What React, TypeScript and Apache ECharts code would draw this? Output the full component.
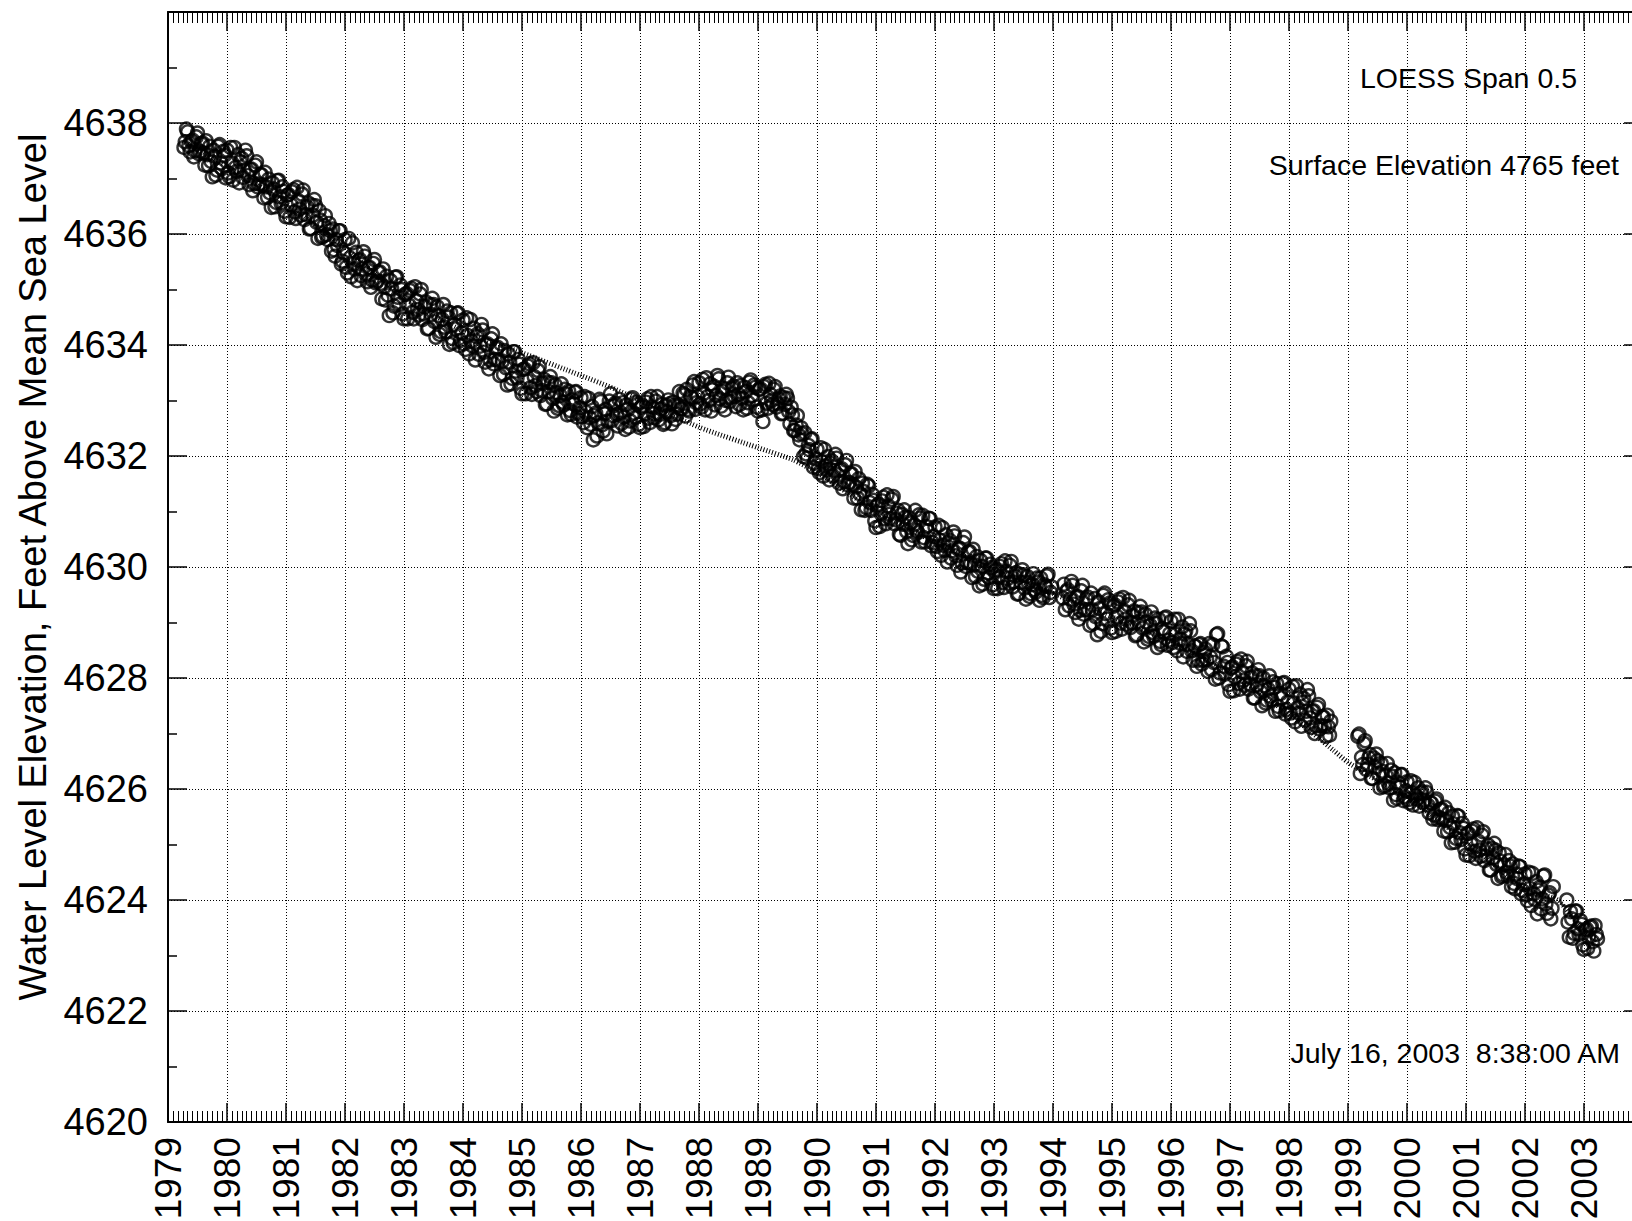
import React, { useEffect, useRef } from "react";
import * as echarts from "echarts";

// Semi-monthly water level readings (feet above mean sea level); null = no reading
// first reading of each half-month
const lvl1979 = [null, null, null, null, null, null, null, 4637.66, 4637.84, 4637.48, 4637.69, 4637.5, 4637.82, 4637.49, 4637.64, 4637.24, 4637.43, 4637.58, 4637.03, 4637.4, 4637.15, 4637.61, 4637.18, 4637.42];
const lvl1980 = [4637.51, 4637.03, 4637.28, 4637.56, 4637.13, 4636.92, 4637.36, 4637.15, 4637.41, 4636.89, 4637.17, 4636.91, 4637.3, 4636.9, 4637.07, 4636.65, 4636.85, 4636.99, 4636.48, 4636.81, 4636.57, 4636.97, 4636.56, 4636.77];
const lvl1981 = [4636.31, 4636.71, 4636.53, 4636.8, 4636.28, 4636.6, 4636.34, 4636.79, 4636.35, 4636.56, 4636.1, 4636.34, 4636.51, 4635.92, 4636.25, 4635.96, 4636.33, 4635.9, 4636.06, 4636.09, 4635.6, 4635.79, 4636.06, 4635.51];
const lvl1982 = [4635.9, 4635.3, 4635.57, 4635.84, 4635.37, 4635.16, 4635.54, 4635.37, 4635.6, 4635.14, 4635.4, 4635.17, 4635.54, 4635.15, 4635.32, 4634.83, 4635.05, 4635.24, 4634.53, 4635.01, 4634.7, 4635.23, 4634.73, 4635.0];
const lvl1983 = [4634.47, 4634.93, 4634.72, 4635.02, 4634.47, 4634.8, 4634.54, 4635.0, 4634.56, 4634.77, 4634.3, 4634.55, 4634.73, 4634.14, 4634.53, 4634.24, 4634.73, 4634.24, 4634.5, 4634.58, 4634.04, 4634.29, 4634.58, 4634.08];
const lvl1984 = [4634.45, 4633.92, 4634.17, 4634.46, 4633.98, 4633.73, 4634.2, 4633.98, 4634.27, 4633.69, 4634.02, 4633.73, 4634.2, 4633.74, 4633.96, 4633.45, 4633.71, 4633.9, 4633.28, 4633.69, 4633.4, 4633.88, 4633.41, 4633.65];
const lvl1985 = [4633.12, 4633.57, 4633.36, 4633.66, 4633.11, 4633.43, 4633.16, 4633.61, 4633.18, 4633.38, 4632.94, 4633.16, 4633.32, 4632.81, 4633.14, 4632.91, 4633.3, 4632.92, 4633.12, 4633.17, 4632.75, 4632.94, 4633.16, 4632.77];
const lvl1986 = [4633.05, 4632.6, 4632.79, 4633.04, 4632.57, 4632.29, 4632.77, 4632.6, 4632.98, 4632.45, 4632.84, 4632.63, 4633.12, 4632.73, 4632.95, 4632.54, 4632.78, 4632.96, 4632.48, 4632.84, 4632.63, 4633.05, 4632.69, 4632.93];
const lvl1987 = [4632.51, 4632.91, 4632.76, 4633.03, 4632.6, 4632.88, 4632.69, 4633.07, 4632.75, 4632.93, 4632.6, 4632.8, 4632.94, 4632.58, 4632.91, 4632.75, 4633.16, 4632.85, 4633.1, 4633.2, 4632.81, 4633.05, 4633.34, 4632.96];
const lvl1988 = [4633.32, 4632.88, 4633.13, 4633.41, 4633.0, 4632.81, 4633.26, 4633.09, 4633.39, 4632.9, 4633.22, 4633.0, 4633.42, 4633.06, 4633.26, 4632.89, 4633.11, 4633.27, 4632.83, 4633.16, 4632.96, 4633.37, 4633.01, 4633.24];
const lvl1989 = [4632.81, 4633.21, 4632.62, 4633.29, 4632.86, 4633.11, 4632.93, 4633.25, 4632.94, 4633.08, 4632.77, 4632.93, 4633.04, 4632.58, 4632.74, 4632.46, 4632.73, 4632.29, 4632.4, 4632.42, 4631.96, 4632.11, 4632.31, 4631.87];
const lvl1990 = [4632.12, 4631.7, 4631.9, 4632.12, 4631.75, 4631.57, 4631.91, 4631.74, 4631.96, 4631.51, 4631.77, 4631.54, 4631.92, 4631.52, 4631.68, 4631.24, 4631.44, 4631.59, 4631.03, 4631.36, 4631.07, 4631.46, 4631.02, 4631.2];
const lvl1991 = [4630.71, 4631.13, 4630.97, 4631.26, 4630.78, 4631.1, 4630.87, 4631.27, 4630.85, 4631.02, 4630.57, 4630.77, 4630.9, 4630.42, 4630.79, 4630.57, 4631.02, 4630.62, 4630.88, 4630.93, 4630.45, 4630.65, 4630.87, 4630.44];
const lvl1992 = [4630.72, 4630.28, 4630.48, 4630.71, 4630.3, 4630.09, 4630.48, 4630.29, 4630.56, 4630.03, 4630.34, 4630.07, 4630.54, 4630.08, 4630.28, 4629.81, 4630.04, 4630.19, 4629.66, 4630.01, 4629.78, 4630.16, 4629.81, 4629.99];
const lvl1993 = [4629.61, 4629.96, 4629.81, 4630.06, 4629.63, 4629.92, 4629.71, 4630.1, 4629.73, 4629.9, 4629.52, 4629.72, 4629.86, 4629.42, 4629.72, 4629.52, 4629.88, 4629.55, 4629.73, 4629.8, 4629.45, 4629.65, 4629.87, 4629.54];
const lvl1994 = [null, null, null, null, 4629.44, 4629.23, 4629.59, 4629.42, 4629.67, 4629.18, 4629.47, 4629.22, 4629.67, 4629.23, 4629.46, 4628.95, 4629.23, 4629.43, 4628.78, 4629.25, 4628.98, 4629.53, 4629.06, 4629.35];
const lvl1995 = [4628.82, 4629.32, 4629.11, 4629.42, 4628.88, 4629.21, 4628.97, 4629.4, 4629.0, 4629.21, 4628.78, 4629.02, 4629.19, 4628.65, 4629.01, 4628.75, 4629.19, 4628.75, 4628.98, 4629.06, 4628.6, 4628.83, 4629.1, 4628.68];
const lvl1996 = [4629.02, 4628.55, 4628.79, 4629.06, 4628.62, 4628.38, 4628.85, 4628.61, 4628.85, 4628.32, 4628.57, 4628.32, 4628.62, 4628.32, 4628.52, 4628.12, 4628.38, 4628.6, 4627.98, 4628.8, 4628.09, 4628.56, 4628.07, 4628.28];
const lvl1997 = [4627.76, 4628.2, 4628.02, 4628.3, 4627.8, 4628.11, 4627.87, 4628.3, 4627.89, 4628.09, 4627.64, 4627.88, 4628.04, 4627.5, 4627.86, 4627.6, 4628.04, 4627.6, 4627.83, 4627.9, 4627.41, 4627.64, 4627.92, 4627.43];
const lvl1998 = [4627.8, 4627.28, 4627.55, 4627.86, 4627.37, 4627.13, 4627.63, 4627.4, 4627.68, 4627.11, 4627.41, 4627.14, 4627.52, 4627.14, 4627.3, 4626.95, 4627.12, 4627.22, null, null, null, null, null, null];
const lvl1999 = [null, null, null, null, 4626.95, 4626.28, 4626.44, 4626.87, 4626.44, 4626.62, 4626.19, 4626.39, 4626.51, 4626.02, 4626.32, 4626.06, 4626.46, 4626.02, 4626.23, 4626.29, 4625.83, 4626.03, 4626.26, 4625.86];
const lvl2000 = [4626.13, 4625.75, 4625.93, 4626.12, 4625.82, 4625.69, 4625.95, 4625.8, 4625.94, 4625.57, 4625.74, 4625.53, 4625.82, 4625.49, 4625.64, 4625.24, 4625.43, 4625.57, 4625.03, 4625.37, 4625.11, 4625.51, 4625.09, 4625.29];
const lvl2001 = [4624.81, 4625.2, 4625.01, 4625.28, 4624.75, 4625.06, 4624.79, 4625.23, 4624.79, 4624.99, 4624.54, 4624.76, 4624.9, 4624.39, 4624.7, 4624.45, 4624.82, 4624.43, 4624.61, 4624.65, 4624.2, 4624.38, 4624.6, 4624.17];
const lvl2002 = [4624.47, 4623.99, 4624.21, 4624.48, 4624.01, 4623.75, 4624.23, 4624.02, 4624.45, 4623.76, 4624.13, 4623.85, null, null, null, null, null, 4624.0, 4623.33, 4623.66, 4623.4, 4623.8, 4623.38, 4623.56];
const lvl2003 = [4623.11, 4623.48, 4623.33, 4623.53, 4623.08, 4623.38];

// second reading of each half-month
const lvl1979b = [null, null, null, null, null, null, 4637.56, 4637.89, 4637.59, 4637.67, 4637.39, 4637.75, 4637.45, 4637.63, 4637.46, 4637.68, 4637.23, 4637.31, 4637.51, 4637.06, 4637.58, 4637.28, 4637.49, 4637.01];
const lvl1980b = [4637.1, 4637.56, 4636.97, 4637.2, 4637.43, 4637.3, 4637.02, 4637.51, 4637.05, 4637.16, 4636.78, 4637.24, 4636.85, 4637.07, 4636.88, 4637.11, 4636.66, 4636.74, 4636.92, 4636.49, 4636.96, 4636.67, 4636.85, 4636.41];
const lvl1981b = [4636.7, 4636.3, 4636.76, 4636.4, 4636.84, 4636.45, 4636.72, 4636.26, 4636.49, 4636.09, 4636.52, 4636.62, 4636.21, 4636.42, 4635.94, 4636.15, 4635.99, 4636.19, 4635.69, 4635.72, 4635.9, 4636.06, 4635.46, 4635.66];
const lvl1982b = [4635.4, 4635.92, 4635.23, 4635.47, 4635.67, 4635.52, 4635.25, 4635.68, 4635.28, 4635.39, 4635.04, 4635.47, 4635.12, 4635.31, 4635.11, 4635.37, 4634.81, 4634.9, 4635.16, 4634.58, 4635.22, 4634.86, 4635.08, 4634.56];
const lvl1983b = [4634.91, 4634.47, 4634.98, 4634.59, 4635.05, 4634.64, 4634.92, 4634.46, 4634.69, 4634.29, 4634.73, 4634.84, 4634.42, 4634.69, 4634.19, 4634.46, 4634.32, 4634.61, 4634.01, 4634.12, 4634.37, 4634.57, 4633.99, 4634.22];
const lvl1984b = [4634.02, 4634.49, 4633.84, 4634.07, 4634.3, 4634.15, 4633.83, 4634.37, 4633.87, 4634.0, 4633.57, 4634.11, 4633.66, 4633.94, 4633.72, 4634.02, 4633.47, 4633.59, 4633.84, 4633.3, 4633.88, 4633.53, 4633.74, 4633.22];
const lvl1985b = [4633.56, 4633.12, 4633.62, 4633.23, 4633.68, 4633.27, 4633.54, 4633.09, 4633.31, 4632.93, 4633.33, 4633.43, 4633.04, 4633.28, 4632.86, 4633.09, 4632.97, 4633.2, 4632.74, 4632.82, 4633.01, 4633.15, 4632.7, 4632.87];
const lvl1986b = [4632.71, 4633.07, 4632.51, 4632.69, 4632.89, 4632.73, 4632.36, 4633.02, 4632.56, 4632.76, 4632.4, 4632.99, 4632.64, 4632.91, 4632.75, 4633.02, 4632.59, 4632.7, 4632.92, 4632.52, 4633.02, 4632.77, 4632.97, 4632.57];
const lvl1987b = [4632.88, 4632.53, 4632.97, 4632.68, 4633.07, 4632.76, 4632.99, 4632.65, 4632.85, 4632.57, 4632.91, 4633.01, 4632.73, 4632.97, 4632.66, 4632.91, 4632.85, 4633.13, 4632.72, 4632.84, 4633.08, 4633.28, 4632.84, 4633.07];
const lvl1988b = [4632.94, 4633.38, 4632.83, 4633.07, 4633.3, 4633.19, 4632.92, 4633.45, 4633.03, 4633.17, 4632.83, 4633.32, 4632.98, 4633.22, 4633.07, 4633.32, 4632.93, 4633.04, 4633.24, 4632.86, 4633.33, 4633.09, 4633.28, 4632.88];
const lvl1989b = [4633.2, 4632.83, 4633.25, 4632.95, 4633.31, 4633.0, 4633.2, 4632.88, 4633.03, 4632.76, 4633.05, 4633.11, 4632.8, 4632.88, 4632.46, 4632.56, 4632.38, 4632.51, 4631.99, 4632.04, 4632.19, 4632.3, 4631.8, 4631.95];
const lvl1990b = [4631.77, 4632.15, 4631.64, 4631.82, 4631.99, 4631.87, 4631.64, 4632.03, 4631.66, 4631.75, 4631.41, 4631.84, 4631.48, 4631.68, 4631.49, 4631.72, 4631.24, 4631.32, 4631.51, 4631.02, 4631.49, 4631.16, 4631.31, 4630.83];
const lvl1991b = [4631.1, 4630.73, 4631.19, 4630.87, 4631.3, 4630.95, 4631.22, 4630.78, 4630.97, 4630.59, 4630.95, 4631.03, 4630.64, 4630.89, 4630.49, 4630.76, 4630.66, 4630.94, 4630.45, 4630.53, 4630.73, 4630.88, 4630.38, 4630.55];
const lvl1992b = [4630.37, 4630.75, 4630.21, 4630.39, 4630.58, 4630.44, 4630.16, 4630.63, 4630.2, 4630.32, 4629.91, 4630.44, 4630.01, 4630.27, 4630.06, 4630.32, 4629.83, 4629.92, 4630.12, 4629.69, 4630.16, 4629.89, 4630.05, 4629.68];
const lvl1993b = [4629.93, 4629.61, 4630.01, 4629.72, 4630.11, 4629.79, 4630.03, 4629.64, 4629.84, 4629.51, 4629.87, 4629.95, 4629.62, 4629.83, 4629.47, 4629.68, 4629.59, 4629.8, 4629.4, 4629.49, 4629.68, 4629.84, 4629.45, 4629.64];
const lvl1994b = [null, null, null, null, 4629.69, 4629.56, 4629.3, 4629.74, 4629.33, 4629.45, 4629.06, 4629.57, 4629.15, 4629.42, 4629.22, 4629.53, 4628.98, 4629.1, 4629.37, 4628.84, 4629.49, 4629.16, 4629.41, 4628.9];
const lvl1995b = [4629.29, 4628.84, 4629.37, 4628.99, 4629.45, 4629.06, 4629.32, 4628.91, 4629.13, 4628.76, 4629.18, 4629.29, 4628.9, 4629.15, 4628.7, 4628.95, 4628.82, 4629.08, 4628.55, 4628.66, 4628.89, 4629.08, 4628.59, 4628.8];
const lvl1996b = [4628.64, 4629.06, 4628.49, 4628.7, 4628.92, 4628.79, 4628.48, 4628.98, 4628.49, 4628.58, 4628.21, 4628.6, 4628.25, 4628.47, 4628.33, 4628.62, 4628.15, 4628.28, 4628.78, 4628.0, 4628.58, 4628.21, 4628.39, 4627.88];
const lvl1997b = [4628.18, 4627.77, 4628.25, 4627.9, 4628.34, 4627.96, 4628.22, 4627.8, 4628.01, 4627.64, 4628.04, 4628.15, 4627.75, 4628.0, 4627.55, 4627.8, 4627.67, 4627.93, 4627.4, 4627.49, 4627.72, 4627.9, 4627.35, 4627.57];
const lvl1998b = [4627.37, 4627.85, 4627.21, 4627.46, 4627.71, 4627.56, 4627.24, 4627.79, 4627.28, 4627.4, 4627.0, 4627.47, 4627.08, 4627.3, 4627.13, 4627.33, 4626.97, null, null, null, null, null, null, null];
const lvl1999b = [null, null, null, null, 4626.99, 4626.57, 4626.82, 4626.35, 4626.56, 4626.19, 4626.56, 4626.63, 4626.27, 4626.46, 4626.04, 4626.24, 4626.1, 4626.34, 4625.8, 4625.9, 4626.11, 4626.26, 4625.79, 4625.97];
const lvl2000b = [4625.81, 4626.15, 4625.71, 4625.88, 4626.02, 4625.93, 4625.76, 4626.02, 4625.71, 4625.76, 4625.46, 4625.78, 4625.45, 4625.63, 4625.46, 4625.67, 4625.23, 4625.31, 4625.51, 4625.04, 4625.52, 4625.21, 4625.38, 4624.92];
const lvl2001b = [4625.2, 4624.8, 4625.24, 4624.88, 4625.3, 4624.9, 4625.17, 4624.71, 4624.92, 4624.54, 4624.93, 4625.02, 4624.64, 4624.85, 4624.42, 4624.63, 4624.5, 4624.71, 4624.24, 4624.3, 4624.47, 4624.61, 4624.11, 4624.28];
const lvl2002b = [4624.09, 4624.5, 4623.9, 4624.11, 4624.33, 4624.18, 4623.84, 4624.43, 4623.93, 4624.09, 4623.66, 4624.24, null, null, null, null, null, 4623.6, 4623.79, 4623.31, 4623.8, 4623.48, 4623.63, 4623.19];
const lvl2003b = [4623.46, 4623.13, 4623.51, 4623.25, 4623.54, 4623.3];

const obsYears = [1979, 1980, 1981, 1982, 1983, 1984, 1985, 1986, 1987, 1988, 1989, 1990, 1991, 1992, 1993, 1994, 1995, 1996, 1997, 1998, 1999, 2000, 2001, 2002, 2003];
const obsLevelsA = [lvl1979, lvl1980, lvl1981, lvl1982, lvl1983, lvl1984, lvl1985, lvl1986, lvl1987, lvl1988, lvl1989, lvl1990, lvl1991, lvl1992, lvl1993, lvl1994, lvl1995, lvl1996, lvl1997, lvl1998, lvl1999, lvl2000, lvl2001, lvl2002, lvl2003];
const obsLevelsB = [lvl1979b, lvl1980b, lvl1981b, lvl1982b, lvl1983b, lvl1984b, lvl1985b, lvl1986b, lvl1987b, lvl1988b, lvl1989b, lvl1990b, lvl1991b, lvl1992b, lvl1993b, lvl1994b, lvl1995b, lvl1996b, lvl1997b, lvl1998b, lvl1999b, lvl2000b, lvl2001b, lvl2002b, lvl2003b];
const readingsPerYear = 24;

// LOESS fit (span 0.5)
const loessYears = [1979.25, 1980, 1981, 1982, 1983, 1984, 1985, 1986, 1986.5, 1987, 1988, 1989, 1989.6, 1990, 1990.5, 1991, 1992, 1993, 1994, 1995, 1996, 1997, 1998, 1998.5, 1998.75, 1999, 1999.5, 2000, 2001, 2002, 2002.55, 2003, 2003.25];
const loessLevels = [4637.68, 4637.22, 4636.55, 4635.75, 4634.85, 4634.25, 4633.86, 4633.45, 4633.24, 4633.0, 4632.52, 4632.15, 4631.93, 4631.7, 4631.35, 4631.0, 4630.45, 4629.95, 4629.52, 4629.1, 4628.65, 4628.1, 4627.35, 4626.92, 4626.7, 4626.48, 4626.15, 4625.85, 4625.05, 4624.2, 4624.0, 4623.45, 4623.25];

const xMin = 1979;
const xMax = 2004;
const yMin = 4620;
const yMax = 4640;
const yStep = 2;

const yAxisTitle = "Water Level Elevation, Feet Above Mean Sea Level";
const noteSpan = "LOESS Span 0.5";
const noteSurface = "Surface Elevation 4765 feet";
const noteDate = "July 16, 2003  8:38:00 AM";

const FONT = '"Liberation Sans", Arial, Helvetica, sans-serif';

export default function App() {
  const ref = useRef<HTMLDivElement>(null);

  useEffect(() => {
    if (!ref.current) return;
    const chart = echarts.init(ref.current, null, { renderer: "svg" });

    const points: number[][] = [];
    obsYears.forEach((yr, k) => {
      const a = obsLevelsA[k];
      const b = obsLevelsB[k];
      for (let i = 0; i < readingsPerYear; i++) {
        const va = a[i];
        const vb = b[i];
        if (va !== null && va !== undefined) points.push([yr + i / readingsPerYear, va as number]);
        if (vb !== null && vb !== undefined) points.push([yr + (i + 0.5) / readingsPerYear, vb as number]);
      }
    });
    const loessPts = loessYears.map((t, i) => [t, loessLevels[i]]);

    const axisLine = { show: true, onZero: false, lineStyle: { color: "#000", width: 2 } };
    const gridLine = { show: true, lineStyle: { color: "#000", width: 1, type: [1, 2] as any } };

    const xBase = {
      type: "value" as const,
      min: xMin,
      max: xMax,
      interval: 1,
      axisLine,
      axisTick: { show: true, inside: true, length: 19, lineStyle: { color: "#000", width: 1.5 } },
      minorTick: { show: true, splitNumber: 12, length: 11, lineStyle: { color: "#000", width: 1 } },
    };
    const yBase = {
      type: "value" as const,
      min: yMin,
      max: yMax,
      interval: yStep,
      axisLine,
      axisTick: { show: true, inside: true, length: 19, lineStyle: { color: "#000", width: 1.5 } },
      minorTick: { show: true, splitNumber: 2, length: 9, lineStyle: { color: "#000", width: 1.5 } },
    };

    const note = (text: string, x: number, y: number) => ({
      type: "text",
      x,
      y,
      silent: true,
      z: 100,
      style: {
        text,
        fill: "#000",
        fontSize: 28.5,
        fontFamily: FONT,
        font: `28.5px ${FONT}`,
        textAlign: "right",
        textVerticalAlign: "middle",
        align: "right",
        verticalAlign: "middle",
      },
    });

    chart.setOption({
      animation: false,
      backgroundColor: "#fff",
      grid: { left: 168, right: 57, top: 12, bottom: 99, containLabel: false, outerBoundsMode: "none" } as any,
      xAxis: [
        {
          ...xBase,
          position: "bottom",
          splitLine: gridLine,
          axisLabel: {
            show: true,
            rotate: 90,
            margin: 15,
            color: "#000",
            fontSize: 37,
            fontFamily: FONT,
            formatter: (v: number) => (v >= xMax ? "" : String(v)),
          },
        },
        {
          ...xBase,
          position: "top",
          splitLine: { show: false },
          axisLabel: { show: false },
        },
      ],
      yAxis: [
        {
          ...yBase,
          position: "left",
          splitLine: gridLine,
          name: yAxisTitle,
          nameLocation: "middle",
          nameGap: 116,
          nameTextStyle: { color: "#000", fontSize: 38, fontFamily: FONT },
          axisLabel: {
            show: true,
            margin: 20,
            color: "#000",
            fontSize: 38,
            fontFamily: FONT,
            formatter: (v: number) => (v >= yMax ? "" : String(v)),
          },
        },
        {
          ...yBase,
          position: "right",
          splitLine: { show: false },
          axisLabel: { show: false },
        },
      ],
      series: [
        {
          type: "scatter",
          xAxisIndex: 0,
          yAxisIndex: 0,
          data: points,
          symbol: "circle",
          symbolSize: 13,
          silent: true,
          z: 2,
          itemStyle: { color: "rgba(255,255,255,0)", borderColor: "#000", borderWidth: 2.4 },
        },
        {
          type: "line",
          xAxisIndex: 0,
          yAxisIndex: 0,
          data: loessPts,
          symbol: "none",
          smooth: 0.2,
          silent: true,
          z: 4,
          lineStyle: { color: "#000", width: 5, type: [1, 2] as any },
        },
      ],
      graphic: [
        note(noteSpan, 1577, 78),
        note(noteSurface, 1619, 165),
        note(noteDate, 1620, 1053),
      ],
    });

    return () => chart.dispose();
  }, []);

  return (
    <div
      style={{
        position: "fixed",
        left: 0,
        top: 0,
        width: 1632,
        height: 1221,
        overflow: "hidden",
        background: "#fff",
      }}
    >
      <div ref={ref} style={{ width: 1700, height: 1221 }} />
    </div>
  );
}
